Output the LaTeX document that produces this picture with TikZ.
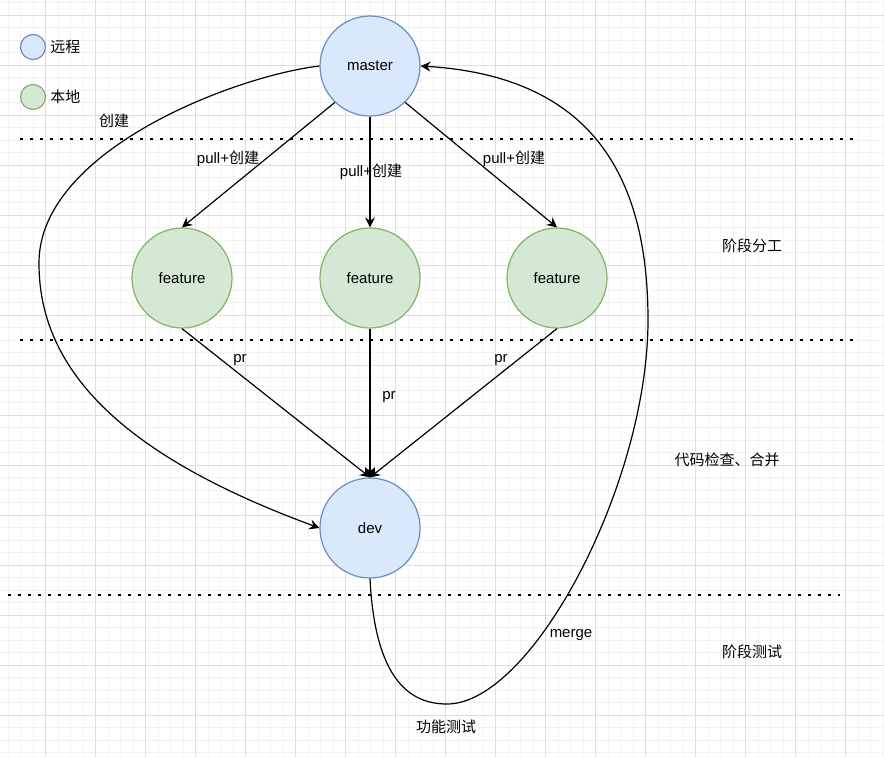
\documentclass[tikz,border=0pt]{standalone}
\usepackage{fontspec}
\setmainfont{Liberation Sans}
\newfontfamily\cjk{Noto Sans CJK SC}
\usetikzlibrary{arrows.meta}
\definecolor{remotefill}{HTML}{DAE8FC}
\definecolor{remoteline}{HTML}{6C8EBF}
\definecolor{localfill}{HTML}{D5E8D4}
\definecolor{localline}{HTML}{82B366}
\definecolor{gridmajor}{HTML}{DEDEDE}
\definecolor{gridminor}{HTML}{F3F3F3}
\tikzset{
  remote/.style={circle, draw=remoteline, fill=remotefill, line width=0.9pt,
    minimum size=75pt, inner sep=0pt},
  local/.style={circle, draw=localline, fill=localfill, line width=0.9pt,
    minimum size=75pt, inner sep=0pt},
  edge/.style={line width=0.9pt, -{Stealth[length=7.5pt,width=7.5pt,inset=2.6pt]}},
  divider/.style={line width=1.9pt, dash pattern=on 1.9pt off 5.6pt},
  lbl/.style={inner sep=0pt}
}
\begin{document}
\begin{tikzpicture}[x=0.75pt,y=-0.75pt,font=\fontsize{11.25}{13}\selectfont]
    \useasboundingbox (0,0) rectangle (884,757);
    \fill[white] (0,0) rectangle (884,757);
    % grid
    \foreach \gx in {8,20.5,...,884} \draw[gridminor, line width=0.75pt] (\gx,0) -- (\gx,757);
    \foreach \gy in {2.5,15,...,757} \draw[gridminor, line width=0.75pt] (0,\gy) -- (884,\gy);
    \foreach \gx in {45.5,95.5,...,884} \draw[gridmajor, line width=0.75pt] (\gx,0) -- (\gx,757);
    \foreach \gy in {15,65,...,757} \draw[gridmajor, line width=0.75pt] (0,\gy) -- (884,\gy);

    % stage dividers
    \draw[divider] (20,139) -- (853,139);
    \draw[divider] (20,340) -- (853,340);
    \draw[divider] (8,595) -- (840,595);

    % legend
    \node[remote, minimum size=18.75pt] (keyRemote) at (33,47) {};
    \node[local, minimum size=18.75pt] (keyLocal) at (33,97) {};
    \node[lbl, anchor=west] (keyRemoteText) at (50,47) {\cjk 远程};
    \node[lbl, anchor=west] (keyLocalText) at (50,97) {\cjk 本地};

    \node[remote] (master) at (370,66) {master};
    \node[local] (featL) at (182,278) {feature};
    \node[local] (featM) at (370,278) {feature};
    \node[local] (featR) at (557,278) {feature};
    \node[remote] (dev) at (370,528) {dev};

    \draw[edge] (master.226) -- (featL.north);
    \draw[edge] (master.south) -- (featM.north);
    \draw[edge] (master.314) -- (featR.north);
    \draw[edge] (featL.south) -- (dev.north);
    \draw[edge] (featM.south) -- (dev.north);
    \draw[edge] (featR.south) -- (dev.north);

    \coordinate (farLeft) at (39,262);
    \coordinate (lowPoint) at (447,704);
    \coordinate (farRight) at (648,320);
    \draw[edge] (master.west) .. controls (235,76) and (40,150) .. (farLeft)
        .. controls (38,380) and (140,462) .. (dev.west);
    \draw[edge] (dev.south) .. controls (375,680) and (410,704) .. (lowPoint)
        .. controls (532,704) and (648,484) .. (farRight)
        .. controls (648,168) and (585,76) .. (master.east);

    \node[lbl] (pullL) at (228,159) {pull+\cjk 创建};
    \node[lbl] (pullM) at (371,172) {pull+\cjk 创建};
    \node[lbl] (pullR) at (514,159) {pull+\cjk 创建};
    \node[lbl] (prL) at (240,360) {pr};
    \node[lbl] (prM) at (389,397) {pr};
    \node[lbl] (prR) at (501,360) {pr};
    \node[lbl] (createDev) at (114,121) {\cjk 创建};
    \node[lbl] (mergeMaster) at (571,635) {merge};
    \node[lbl] (testDev) at (446,727) {\cjk 功能测试};

    \node[lbl] (stageSplit) at (752,246) {\cjk 阶段分工};
    \node[lbl] (stageReview) at (727,460) {\cjk 代码检查、合并};
    \node[lbl] (stageTest) at (752,652) {\cjk 阶段测试};
\end{tikzpicture}
\end{document}
